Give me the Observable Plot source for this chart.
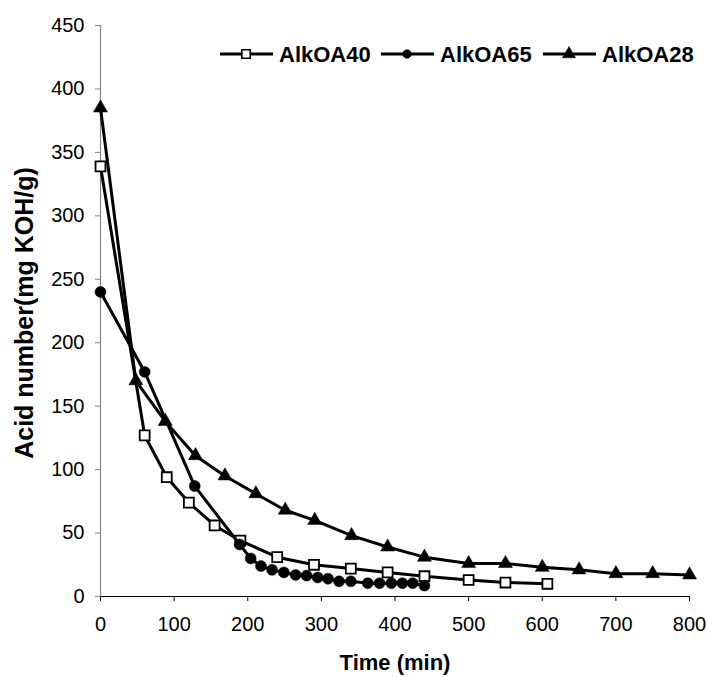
<!DOCTYPE html>
<html><head><meta charset="utf-8">
<script src="https://cdn.jsdelivr.net/npm/d3@7"></script>
<script src="https://cdn.jsdelivr.net/npm/@observablehq/plot@0.6"></script>
<style>body{margin:0;background:#fff}</style>
</head><body><div id="chart"></div>
<script>
// AlkOA40 (open squares)
const time40  = [0, 60, 90, 120, 155, 190, 240, 290, 340, 390, 440, 500, 550, 607];
const acid40  = [339, 127, 94, 74, 56, 44, 31, 25, 22, 19, 16, 13, 11, 10];
// AlkOA65 (filled circles)
const time65  = [0, 60, 128, 189, 204, 218, 233, 249, 265, 280, 295, 309, 324, 340, 363, 379, 395, 410, 424, 440];
const acid65  = [240, 177, 87, 41, 30, 24, 21, 19, 17, 16.5, 15, 14, 12, 12, 10.5, 10.5, 10.5, 10.5, 10.5, 8.6];
// AlkOA28 (filled triangles)
const time28  = [0, 48, 88, 129, 169, 211, 251, 291, 341, 390, 440, 500, 550, 600, 650, 700, 750, 800];
const acid28  = [385, 170, 138, 111, 95, 81, 68, 60, 48, 39, 31, 26, 26, 23, 21, 18, 18, 17];

const seriesNames = ["AlkOA40", "AlkOA65", "AlkOA28"];
const xTicks = [0, 100, 200, 300, 400, 500, 600, 700, 800];
const yTicks = [0, 50, 100, 150, 200, 250, 300, 350, 400, 450];
const xTitle = "Time (min)";
const yTitle = "Acid number(mg KOH/g)";

const mk = (ts, vs, s) => ts.map((t, i) => ({t, v: vs[i], series: s}));
const d40 = mk(time40, acid40, seriesNames[0]);
const d65 = mk(time65, acid65, seriesNames[1]);
const d28 = mk(time28, acid28, seriesNames[2]);

const FONT = "'Liberation Sans', Arial, sans-serif";

const chart = Plot.plot({
  width: 707, height: 677,
  marginLeft: 100, marginRight: 18, marginTop: 25, marginBottom: 81,
  x: {domain: [0, 800]},
  y: {domain: [0, 450]},
  style: {fontFamily: FONT, fontSize: "20px", color: "#000", background: "#fff", overflow: "visible"},
  marks: [
    Plot.axisY({ticks: yTicks, tickSize: 5, tickPadding: 11, stroke: "#868686", fill: "#000", label: null, fontSize: 20}),
    Plot.axisX({ticks: xTicks, tickSize: 5, tickPadding: 15, stroke: "#000", fill: "#000", label: null, fontSize: 20}),
    Plot.ruleX([0], {stroke: "#868686", strokeWidth: 1.2}),
    Plot.ruleY([0], {stroke: "#000", strokeWidth: 1}),
    Plot.line(d40, {x: "t", y: "v", stroke: "#000", strokeWidth: 3}),
    Plot.dot(d40, {x: "t", y: "v", symbol: "square", r: 5.6, fill: "#fff", stroke: "#000", strokeWidth: 1.8}),
    Plot.line(d65, {x: "t", y: "v", stroke: "#000", strokeWidth: 3}),
    Plot.dot(d65, {x: "t", y: "v", symbol: "circle", r: 5.5, fill: "#000", stroke: "#000", strokeWidth: 0.5}),
    Plot.line(d28, {x: "t", y: "v", stroke: "#000", strokeWidth: 3}),
    Plot.dot(d28, {x: "t", y: "v", symbol: "triangle", r: 5.2, fill: "#000", stroke: "#000", strokeWidth: 0.5}),
    Plot.text([xTitle], {frameAnchor: "bottom", dy: 66, lineAnchor: "middle", textAnchor: "middle", fontWeight: "bold", fontSize: 22, fill: "#000"}),
    Plot.text([yTitle], {frameAnchor: "left", dx: -76, dy: 2, rotate: -90, lineAnchor: "middle", textAnchor: "middle", fontWeight: "bold", fontSize: 25, fill: "#000"})
  ]
});
document.getElementById("chart").appendChild(chart);

// Legend inside the plot area (top right)
const svg = d3.select(chart);
const legendY = 54;
const legendStarts = [220, 381, 543];
const symbols = [d3.symbolSquare, d3.symbolCircle, d3.symbolTriangle];
const symFill = ["#fff", "#000", "#000"];
const symSize = [70, 60, 75];
const g = svg.append("g").attr("font-family", FONT).attr("text-anchor", "start");
seriesNames.forEach((name, i) => {
  const x0 = legendStarts[i];
  g.append("line").attr("x1", x0).attr("x2", x0 + 53).attr("y1", legendY).attr("y2", legendY)
    .attr("stroke", "#000").attr("stroke-width", 3);
  g.append("path").attr("d", d3.symbol(symbols[i], symSize[i])())
    .attr("transform", `translate(${x0 + 26},${legendY})`)
    .attr("fill", symFill[i]).attr("stroke", "#000").attr("stroke-width", i === 0 ? 1.6 : 0.5);
  g.append("text").attr("x", x0 + 59).attr("y", legendY).attr("dy", "0.36em")
    .attr("text-anchor", "start")
    .attr("font-size", 22).attr("font-weight", "bold").attr("fill", "#000").text(name);
});
</script>
</body></html>
